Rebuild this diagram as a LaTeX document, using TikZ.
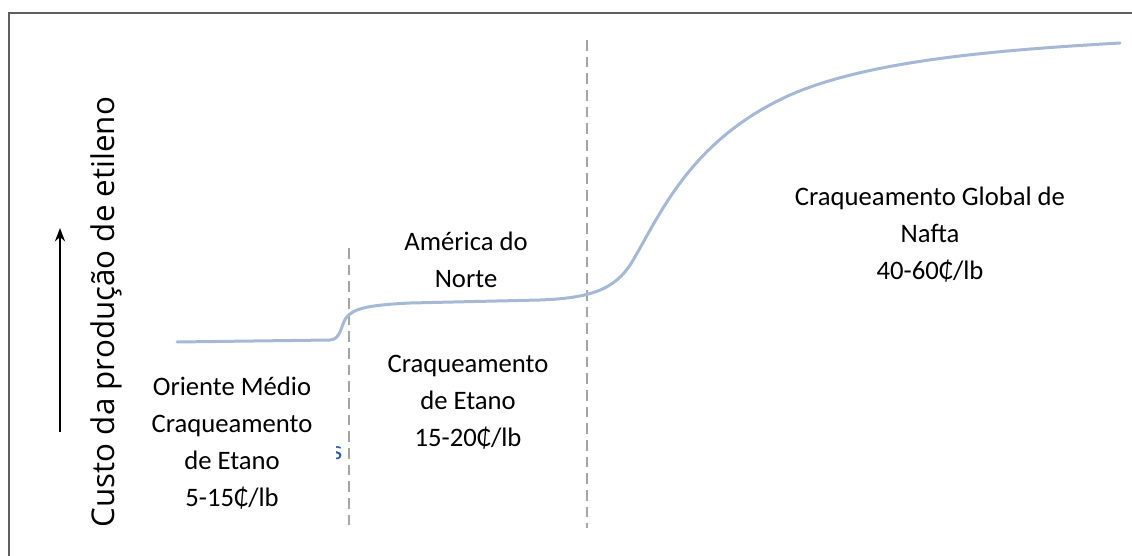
\documentclass[tikz,border=0pt]{standalone}
\usepackage{fontspec}
\setmainfont{Carlito}
\newfontfamily\axisfont{Open Sans}
\usetikzlibrary{arrows.meta}
\newcommand{\lbl}{\fontsize{20}{27.75}\selectfont}
\definecolor{curveblue}{RGB}{165,185,215}
\definecolor{dashgray}{RGB}{165,165,165}
\definecolor{framegray}{RGB}{95,95,95}
\definecolor{strayblue}{RGB}{40,90,170}
\begin{document}
\begin{tikzpicture}[>={Stealth[length=10pt,width=7.5pt]}, x=0.75pt, y=-0.75pt]
\tikzstyle{every node}=[font=\lbl, align=center, inner sep=0pt]
\tikzstyle{divider}=[dashgray, line width=1.6pt, dash pattern=on 8pt off 4.5pt]
\useasboundingbox (0,0) rectangle (1132,556);
% frame
\draw[framegray, line width=1.5pt] (9,556) -- (9,13) -- (1132,13);
% dividers
\coordinate (d1top) at (349,248);
\coordinate (d1bot) at (349,528);
\coordinate (d2top) at (587,40);
\coordinate (d2bot) at (587,528);
\draw[divider] (d1top) -- (d1bot);
\draw[divider] (d2top) -- (d2bot);
% cost curve
\draw[curveblue, line width=2.25pt, line cap=round] (177,342) -- (330,340)
  .. controls (341,339.5) and (341,325) .. (346,318)
  .. controls (353,308) and (370,305) .. (410,303)
  -- (540,300)
  .. controls (590,298) and (615,290) .. (632,262)
  .. controls (660,215) and (690,140) .. (790,95)
  .. controls (870,60) and (1000,50) .. (1120,43);
% axis
\node[rotate=90, font=\axisfont\fontsize{23.5}{28}\selectfont](ylab) at (106,312) {Custo da produção de etileno};
\coordinate (arrbot) at (60,432);
\coordinate (arrtop) at (60,228);
\draw[->, line width=1.6pt] (arrbot) -- (arrtop);
% regions
\node(mideast) at (232,443) {Oriente Médio\\Craqueamento\\de Etano\\5-15₵/lb};
\node(namerica) at (466,260) {América do\\Norte};
\node(ethane) at (468,402) {Craqueamento\\de Etano\\15-20₵/lb};
\node(naphtha) at (930,235) {Craqueamento Global de\\Nafta\\40-60₵/lb};
\begin{scope}
\clip (336,440) rectangle (346,470);
\node[text=strayblue](stray) at (337,453) {s};
\end{scope}
\end{tikzpicture}
\end{document}
